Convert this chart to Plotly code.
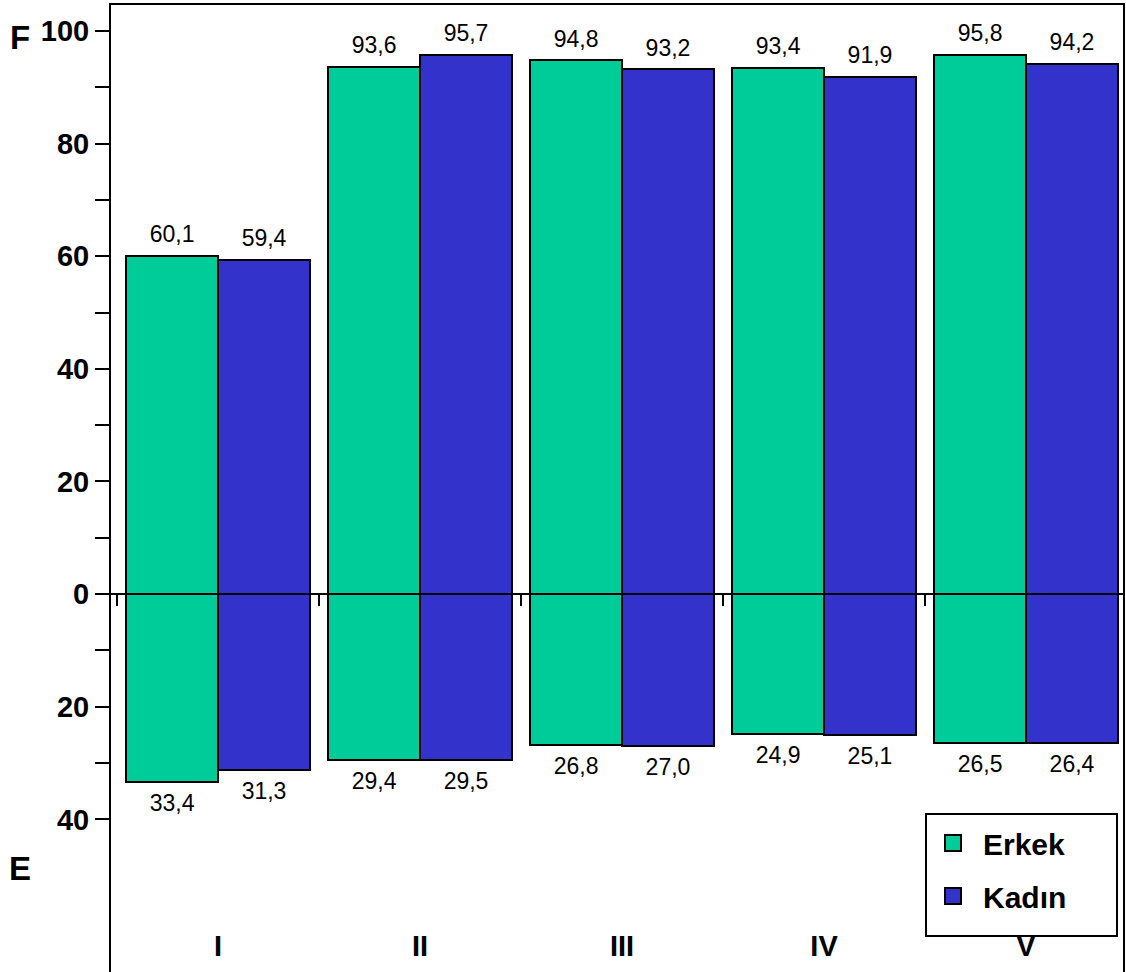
import plotly.graph_objects as go

categories = ["I", "II", "III", "IV", "V"]
erkek_pos = [60.1, 93.6, 94.8, 93.4, 95.8]
kadin_pos = [59.4, 95.7, 93.2, 91.9, 94.2]
erkek_neg = [33.4, 29.4, 26.8, 24.9, 26.5]
kadin_neg = [31.3, 29.5, 27.0, 25.1, 26.4]
ytick_vals = [100, 90, 80, 70, 60, 50, 40, 30, 20, 10, 0, -10, -20, -30, -40]
ytick_text = ["100", "", "80", "", "60", "", "40", "", "20", "", "0", "", "20", "", "40"]

GREEN = "#00CC99"
BLUE = "#3333CC"
FONT = "Arial, Liberation Sans, sans-serif"
W = 0.455

def fmt(v):
    return f"{v:.1f}".replace(".", ",")

xs = list(range(len(categories)))
fig = go.Figure()

series = [("Erkek", erkek_pos, erkek_neg, GREEN, -W),
          ("Kadın", kadin_pos, kadin_neg, BLUE, 0.0)]

for name, pos, neg, col, off in series:
    fig.add_trace(go.Bar(x=xs, y=pos, name=name, offset=off, width=W,
                         marker=dict(color=col, line=dict(color="black", width=2)),
                         showlegend=False))
    fig.add_trace(go.Bar(x=xs, y=[-v for v in neg], name=name, offset=off, width=W,
                         marker=dict(color=col, line=dict(color="black", width=2)),
                         showlegend=False))

for name, pos, neg, col, off in series:
    cx = [x + off + W / 2 for x in xs]
    fig.add_trace(go.Scatter(x=cx, y=pos, xaxis="x2", mode="markers+text",
                             text=[fmt(v) for v in pos], textposition="top center",
                             marker=dict(size=11, opacity=0),
                             textfont=dict(family=FONT, size=23, color="black"),
                             showlegend=False, hoverinfo="skip"))
    fig.add_trace(go.Scatter(x=cx, y=[-v for v in neg], xaxis="x2", mode="markers+text",
                             text=[fmt(v) for v in neg], textposition="bottom center",
                             marker=dict(size=17, opacity=0),
                             textfont=dict(family=FONT, size=23, color="black"),
                             showlegend=False, hoverinfo="skip"))

# legend entries (square swatches)
for name, pos, neg, col, off in series:
    fig.add_trace(go.Scatter(x=[None], y=[None], mode="markers", name=name,
                             legendgroup=name,
                             marker=dict(symbol="square", size=16, color=col,
                                         line=dict(color="black", width=2)),
                             showlegend=True))

XR = [-0.53, 4.48]
YR = [-67.1, 104.6]
pos0 = (0 - YR[0]) / (YR[1] - YR[0])

PW, PH, ML, MT = 1012, 967, 111, 5
def px_x(p):
    return (p - ML) / PW
def px_y(p):
    return 1 - (p - MT) / PH

fig.update_layout(
    template="none",
    width=1126, height=972,
    margin=dict(l=ML, r=3, t=MT, b=0),
    paper_bgcolor="white", plot_bgcolor="white",
    barmode="overlay",
    bargap=0,
    font=dict(family=FONT, color="black"),
    xaxis=dict(range=XR, anchor="free", position=pos0, showline=True,
               linecolor="black", linewidth=2, showgrid=False, zeroline=False,
               tickvals=[-0.5, 0.5, 1.5, 2.5, 3.5, 4.5], ticks="outside",
               ticklen=11, tickwidth=2, tickcolor="black",
               showticklabels=False, automargin=False),
    xaxis2=dict(range=XR, overlaying="x", anchor="y", side="bottom",
                showline=True, mirror=True, linecolor="black", linewidth=2,
                showgrid=False, zeroline=False, ticks="",
                tickvals=xs, ticktext=categories, ticklabelposition="inside",
                ticklabelstandoff=13,
                tickfont=dict(family=FONT, size=29, color="black", weight="bold"),
                automargin=False),
    yaxis=dict(range=YR, showline=True, mirror=True, linecolor="black", linewidth=2,
               showgrid=False, zeroline=True, zerolinecolor="black", zerolinewidth=2,
               tickvals=ytick_vals, ticktext=ytick_text, ticks="outside",
               ticklen=14, tickwidth=2, tickcolor="black",
               tickfont=dict(family=FONT, size=29, color="black", weight="bold"),
               automargin=False),
    legend=dict(x=px_x(923), y=px_y(817), xanchor="left", yanchor="top",
                bgcolor="rgba(0,0,0,0)", borderwidth=0,
                font=dict(family=FONT, size=30, color="black", weight="bold"),
                itemwidth=50, tracegroupgap=11, traceorder="grouped"),
    shapes=[
        dict(type="rect", xref="paper", yref="paper",
             x0=px_x(926), x1=px_x(1117), y0=px_y(936), y1=px_y(814),
             line=dict(color="black", width=2), fillcolor="white", layer="above"),
    ],
    annotations=[
        dict(text="F", xref="paper", yref="paper", x=-0.09, y=0.966,
             xanchor="center", yanchor="middle",
             showarrow=False, font=dict(family=FONT, size=33, color="black", weight="bold")),
        dict(text="E", xref="paper", yref="paper", x=-0.09, y=0.1075,
             xanchor="center", yanchor="middle",
             showarrow=False, font=dict(family=FONT, size=33, color="black", weight="bold")),
    ],
)

fig.write_html("out.html")
